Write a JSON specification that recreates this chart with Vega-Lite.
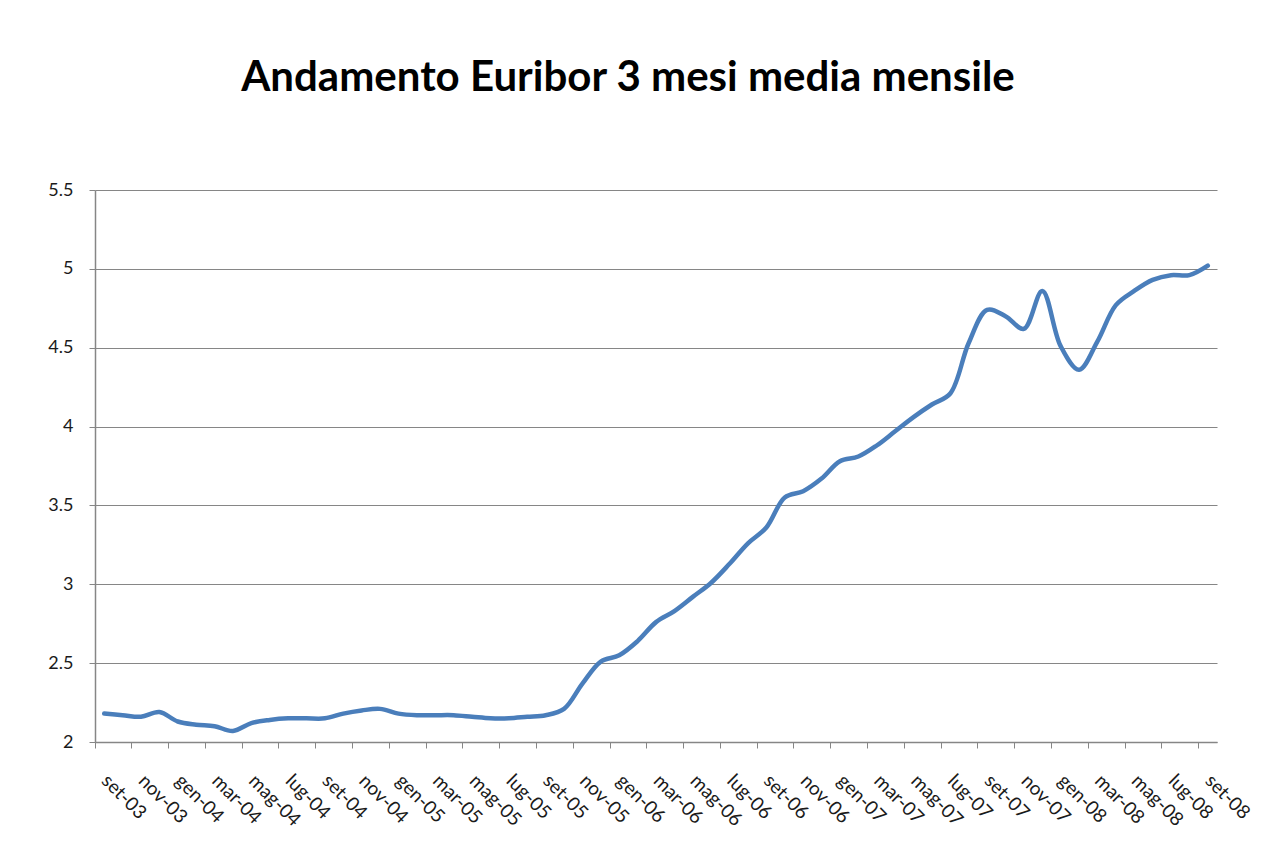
{
  "$schema": "https://vega.github.io/schema/vega-lite/v6.json",
  "width": 1122,
  "height": 552,
  "autosize": "none",
  "padding": {"left": 95, "top": 190, "right": 58, "bottom": 110},
  "background": "white",
  "config": {"view": {"stroke": null}, "font": "Lato"},
  "title": {
    "text": "Andamento Euribor 3 mesi media mensile",
    "font": "Lato",
    "fontSize": 42,
    "fontWeight": "bold",
    "color": "#000000",
    "anchor": "middle",
    "baseline": "alphabetic",
    "offset": 48,
    "dx": -28
  },
  "data": {
    "values": [
      {"mese": "set-03", "tasso": 2.18},
      {"mese": "ott-03", "tasso": 2.17},
      {"mese": "nov-03", "tasso": 2.16},
      {"mese": "dic-03", "tasso": 2.19},
      {"mese": "gen-04", "tasso": 2.13},
      {"mese": "feb-04", "tasso": 2.11},
      {"mese": "mar-04", "tasso": 2.10},
      {"mese": "apr-04", "tasso": 2.07},
      {"mese": "mag-04", "tasso": 2.12},
      {"mese": "giu-04", "tasso": 2.14},
      {"mese": "lug-04", "tasso": 2.15},
      {"mese": "ago-04", "tasso": 2.15},
      {"mese": "set-04", "tasso": 2.15},
      {"mese": "ott-04", "tasso": 2.18},
      {"mese": "nov-04", "tasso": 2.20},
      {"mese": "dic-04", "tasso": 2.21},
      {"mese": "gen-05", "tasso": 2.18},
      {"mese": "feb-05", "tasso": 2.17},
      {"mese": "mar-05", "tasso": 2.17},
      {"mese": "apr-05", "tasso": 2.17},
      {"mese": "mag-05", "tasso": 2.16},
      {"mese": "giu-05", "tasso": 2.15},
      {"mese": "lug-05", "tasso": 2.15},
      {"mese": "ago-05", "tasso": 2.16},
      {"mese": "set-05", "tasso": 2.17},
      {"mese": "ott-05", "tasso": 2.21},
      {"mese": "nov-05", "tasso": 2.37},
      {"mese": "dic-05", "tasso": 2.51},
      {"mese": "gen-06", "tasso": 2.55},
      {"mese": "feb-06", "tasso": 2.64},
      {"mese": "mar-06", "tasso": 2.76},
      {"mese": "apr-06", "tasso": 2.83},
      {"mese": "mag-06", "tasso": 2.92},
      {"mese": "giu-06", "tasso": 3.01},
      {"mese": "lug-06", "tasso": 3.13},
      {"mese": "ago-06", "tasso": 3.26},
      {"mese": "set-06", "tasso": 3.36},
      {"mese": "ott-06", "tasso": 3.55},
      {"mese": "nov-06", "tasso": 3.59},
      {"mese": "dic-06", "tasso": 3.67},
      {"mese": "gen-07", "tasso": 3.78},
      {"mese": "feb-07", "tasso": 3.81},
      {"mese": "mar-07", "tasso": 3.88},
      {"mese": "apr-07", "tasso": 3.97},
      {"mese": "mag-07", "tasso": 4.06},
      {"mese": "giu-07", "tasso": 4.14},
      {"mese": "lug-07", "tasso": 4.21},
      {"mese": "ago-07", "tasso": 4.53},
      {"mese": "set-07", "tasso": 4.74},
      {"mese": "ott-07", "tasso": 4.70},
      {"mese": "nov-07", "tasso": 4.62},
      {"mese": "dic-07", "tasso": 4.86},
      {"mese": "gen-08", "tasso": 4.51},
      {"mese": "feb-08", "tasso": 4.36},
      {"mese": "mar-08", "tasso": 4.54},
      {"mese": "apr-08", "tasso": 4.77},
      {"mese": "mag-08", "tasso": 4.86},
      {"mese": "giu-08", "tasso": 4.93},
      {"mese": "lug-08", "tasso": 4.96},
      {"mese": "ago-08", "tasso": 4.96},
      {"mese": "set-08", "tasso": 5.02}
    ]
  },
  "mark": {
    "type": "line",
    "interpolate": "catmull-rom",
    "color": "#4A7EBB",
    "strokeWidth": 4.5,
    "strokeCap": "round"
  },
  "encoding": {
    "x": {
      "field": "mese",
      "type": "ordinal",
      "sort": null,
      "bandPosition": 0.5,
      "scale": {"type": "band", "paddingInner": 0, "paddingOuter": 0},
      "axis": {
        "title": null,
        "values": ["set-03","nov-03","gen-04","mar-04","mag-04","lug-04","set-04","nov-04","gen-05","mar-05","mag-05","lug-05","set-05","nov-05","gen-06","mar-06","mag-06","lug-06","set-06","nov-06","gen-07","mar-07","mag-07","lug-07","set-07","nov-07","gen-08","mar-08","mag-08","lug-08","set-08"],
        "bandPosition": 0,
        "labelOffset": 7,
        "labelAngle": 45,
        "labelAlign": "left",
        "labelBaseline": "top",
        "labelFont": "Lato",
        "labelFontSize": 19,
        "labelColor": "#1a1a1a",
        "labelPadding": 23,
        "tickSize": 6,
        "tickColor": "#868686",
        "domainColor": "#868686",
        "domainWidth": 1.5,
        "grid": false
      }
    },
    "y": {
      "field": "tasso",
      "type": "quantitative",
      "scale": {"domain": [2, 5.5], "nice": false, "zero": false},
      "axis": {
        "title": null,
        "values": [2, 2.5, 3, 3.5, 4, 4.5, 5, 5.5],
        "format": ".1~f",
        "labelFont": "Lato",
        "labelFontSize": 18,
        "labelColor": "#1a1a1a",
        "labelPadding": 16,
        "tickSize": 6,
        "tickColor": "#868686",
        "domainColor": "#868686",
        "domainWidth": 1.5,
        "grid": true,
        "gridColor": "#868686",
        "gridWidth": 1.2
      }
    }
  }
}
